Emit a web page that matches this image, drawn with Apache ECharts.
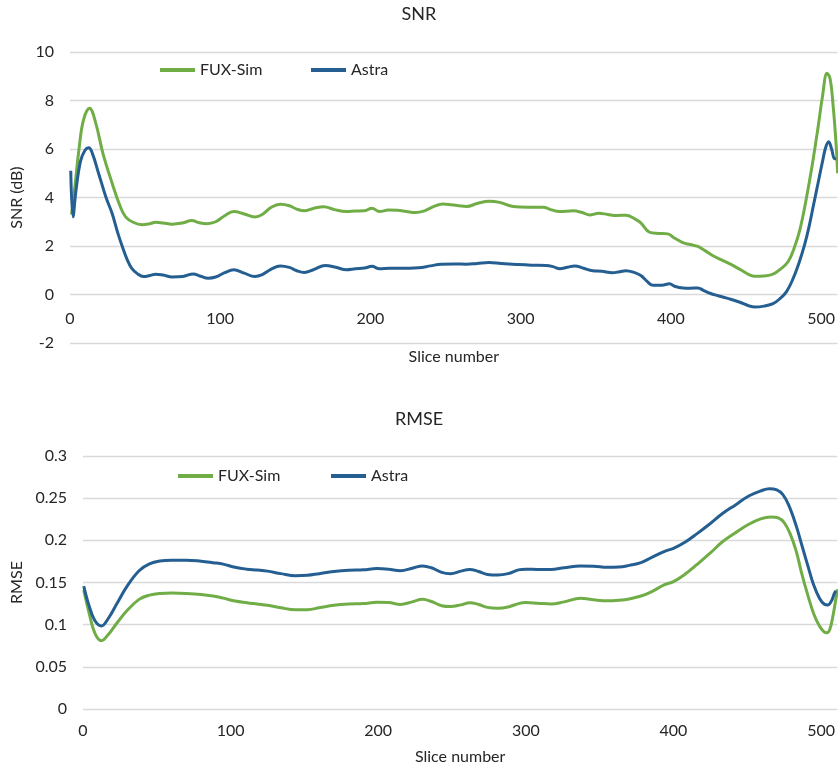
<!DOCTYPE html>
<html>
<head>
<meta charset="utf-8">
<script src="https://cdn.jsdelivr.net/npm/echarts@6/dist/echarts.min.js"></script>
<style>
  html, body { margin: 0; padding: 0; background: #fff; }
  #chart { width: 838px; height: 771px; }
</style>
</head>
<body>
<div id="chart"></div>
<script>
// SNR (dB) per slice
const snrFuxX = [1,3,6,9,13,17,22,28,33,37,42,48,53,57,62,68,75,81,86,91,97,103,109,116,123,128,134,140,146,151,156,162,169,176,184,190,196,201,206,212,218,224,230,236,242,248,254,259,264,271,279,286,295,305,315,320,326,335,341,346,352,358,364,370,376,380,386,392,398,402,408,413,418,423,428,434,440,447,452,456,462,468,473,478,482,486,490,494,498,501,504,506,508,510,511];
const snrFuxY = [3.3,4.3,6.0,7.2,7.68,7.1,5.8,4.6,3.7,3.2,2.98,2.88,2.92,2.98,2.95,2.9,2.95,3.05,2.96,2.92,3.0,3.25,3.42,3.32,3.2,3.3,3.6,3.72,3.66,3.52,3.45,3.55,3.62,3.5,3.42,3.44,3.45,3.56,3.42,3.48,3.47,3.42,3.38,3.45,3.62,3.73,3.7,3.66,3.63,3.75,3.85,3.8,3.63,3.6,3.6,3.5,3.42,3.45,3.38,3.28,3.35,3.3,3.26,3.27,3.12,2.95,2.56,2.52,2.5,2.34,2.14,2.06,1.98,1.8,1.6,1.42,1.24,1.0,0.82,0.75,0.76,0.84,1.05,1.35,1.9,2.7,3.9,5.3,6.9,8.2,9.12,8.9,7.8,6.2,5.0];
const snrAstraX = [0.5,2,4,7,10,12.5,15,19,24,28,32,35,38,41,45,49,53,57,62,68,75,82,87,92,97,103,109,116,123,128,134,140,146,151,156,162,170,177,184,190,196,201,206,213,220,226,232,240,247,256,264,271,279,287,297,307,317,322,326,331,336,342,348,354,361,366,370,375,380,384,388,394,399,403,408,413,418,422,426,432,439,446,452,456,462,468,473,477,481,485,489,492,495,498,501,503,505,507,509,510];
const snrAstraY = [5.1,3.2,4.3,5.5,5.95,6.05,5.8,5.0,4.0,3.35,2.5,1.95,1.45,1.09,0.85,0.74,0.78,0.84,0.8,0.72,0.74,0.85,0.75,0.67,0.72,0.9,1.02,0.88,0.74,0.82,1.05,1.18,1.12,0.98,0.91,1.02,1.2,1.12,1.02,1.06,1.09,1.16,1.06,1.08,1.08,1.08,1.1,1.18,1.25,1.26,1.25,1.28,1.32,1.28,1.24,1.21,1.2,1.14,1.06,1.12,1.18,1.08,0.98,0.96,0.9,0.94,0.98,0.92,0.78,0.55,0.38,0.38,0.44,0.33,0.27,0.26,0.27,0.16,0.05,-0.06,-0.18,-0.32,-0.47,-0.52,-0.48,-0.38,-0.15,0.12,0.6,1.25,2.05,2.8,3.7,4.6,5.5,6.05,6.3,6.0,5.6,5.6];

// RMSE per slice
const rmseFuxX = [0.5,4,8,12.5,17,23,30,38,45,52,60,70,80,88,95,103,111,118,125,134,144,152,160,170,180,190,199,207,215,223,230,236,243,249,256,262,268,274,281,288,295,300,308,317,326,337,346,355,363,370,378,385,394,400,408,416,425,433,442,451,459,466,471,475,479,483,487,491,495,499,502,504,506,508,510,511];
const rmseFuxY = [0.141,0.115,0.09,0.081,0.088,0.102,0.117,0.13,0.135,0.137,0.1375,0.137,0.1358,0.134,0.1315,0.128,0.126,0.1245,0.123,0.12,0.1176,0.1178,0.12,0.123,0.1245,0.125,0.1265,0.1262,0.124,0.127,0.13,0.1275,0.1225,0.1215,0.1235,0.126,0.124,0.1205,0.1195,0.121,0.125,0.1262,0.1255,0.1245,0.127,0.1312,0.1295,0.1284,0.129,0.1305,0.134,0.139,0.1475,0.151,0.16,0.1715,0.185,0.198,0.209,0.219,0.2255,0.2278,0.2265,0.221,0.208,0.188,0.16,0.135,0.113,0.098,0.0915,0.0905,0.095,0.11,0.13,0.142];
const rmseAstraX = [0.5,4,8,12.5,17,23,30,38,45,52,60,70,80,88,95,103,111,118,125,134,144,152,160,170,180,190,199,207,215,223,230,236,243,249,256,262,268,274,281,288,295,300,308,317,326,337,346,355,363,370,378,385,394,400,408,416,425,433,442,451,459,465,470,474,478,483,487,491,495,499,502,504.5,507,509,510];
const rmseAstraY = [0.1457,0.123,0.105,0.0985,0.107,0.125,0.146,0.164,0.172,0.1755,0.1765,0.1765,0.1752,0.1735,0.1718,0.168,0.1658,0.1648,0.1635,0.1605,0.158,0.1585,0.1605,0.163,0.1645,0.165,0.1665,0.1658,0.164,0.167,0.1697,0.1675,0.162,0.1605,0.1635,0.1655,0.163,0.1595,0.1588,0.1605,0.165,0.1658,0.1655,0.1655,0.1675,0.1695,0.1693,0.168,0.1683,0.1703,0.1735,0.1795,0.187,0.1905,0.198,0.208,0.22,0.2315,0.242,0.2525,0.2585,0.2612,0.2598,0.2545,0.242,0.218,0.194,0.17,0.147,0.131,0.1245,0.1232,0.128,0.137,0.14];

const xTicks = [0, 100, 200, 300, 400, 500];
const green = '#70AD47';
const blue = '#255E91';
const font = 'Lato';
const textColor = '#262626';

const pairs = (xs, ys) => xs.map((x, i) => [x, ys[i]]);

const lineSeries = (name, color, data, idx) => ({
  name: name,
  type: 'line',
  xAxisIndex: idx,
  yAxisIndex: idx,
  data: data,
  smooth: 0.4,
  symbol: 'none',
  color: color,
  lineStyle: { width: 3, color: color }
});

// top chart: labels sit at y=0 (Excel style), so draw them inside above the -2 line
const xAxisOf = (idx, labelGap, nameGap, inside) => ({
  gridIndex: idx,
  type: 'value',
  min: 0,
  max: 511,
  interval: 100,
  name: 'Slice number',
  nameLocation: 'middle',
  nameGap: nameGap,
  nameTextStyle: { fontFamily: font, fontSize: 16, color: textColor },
  axisLine: { show: false, onZero: false },
  axisTick: { show: false },
  splitLine: { show: false },
  axisLabel: {
    inside: inside,
    showMaxLabel: false,
    margin: labelGap,
    fontFamily: font,
    fontSize: 16,
    color: textColor,
    formatter: (v) => xTicks.includes(v) ? String(v) : ''
  }
});

const yAxisOf = (idx, name, min, max, interval, nameGap) => ({
  gridIndex: idx,
  type: 'value',
  min: min,
  max: max,
  interval: interval,
  name: name,
  nameLocation: 'middle',
  nameGap: nameGap,
  nameTextStyle: { fontFamily: font, fontSize: 16, color: textColor },
  axisLine: { show: false },
  axisTick: { show: false },
  axisLabel: { margin: 16, fontFamily: font, fontSize: 16, color: textColor },
  splitLine: { lineStyle: { color: '#D9D9D9', width: 1.3 } }
});

const legendOf = (name, left, top) => ({
  data: [name],
  left: left,
  top: top,
  icon: 'rect',
  itemWidth: 35,
  itemHeight: 4,
  padding: 0,
  textStyle: { fontFamily: font, fontSize: 16, color: textColor }
});

let chart = echarts.init(document.getElementById('chart'), null, { renderer: 'canvas' });
chart.setOption({
  animation: false,
  backgroundColor: '#fff',
  title: [
    { text: 'SNR', left: 'center', top: 0, textStyle: { fontFamily: font, fontSize: 18, fontWeight: 'normal', color: textColor } },
    { text: 'RMSE', left: 'center', top: 405, textStyle: { fontFamily: font, fontSize: 18, fontWeight: 'normal', color: textColor } }
  ],
  legend: [
    legendOf('FUX-Sim', 160, 62),
    legendOf('Astra', 311, 62),
    legendOf('FUX-Sim', 178, 468),
    legendOf('Astra', 331, 468)
  ],
  grid: [
    { left: 70, right: 0, top: 52, height: 291 },
    { left: 83, right: 0, top: 456, height: 253 }
  ],
  xAxis: [xAxisOf(0, 16, 6, true), xAxisOf(1, 14, 40, false)],
  yAxis: [
    yAxisOf(0, 'SNR (dB)', -2, 10, 2, 40),
    yAxisOf(1, 'RMSE', 0, 0.3, 0.05, 56)
  ],
  series: [
    lineSeries('FUX-Sim', green, pairs(snrFuxX, snrFuxY), 0),
    lineSeries('Astra', blue, pairs(snrAstraX, snrAstraY), 0),
    lineSeries('FUX-Sim', green, pairs(rmseFuxX, rmseFuxY), 1),
    lineSeries('Astra', blue, pairs(rmseAstraX, rmseAstraY), 1)
  ]
});
</script>
</body>
</html>
